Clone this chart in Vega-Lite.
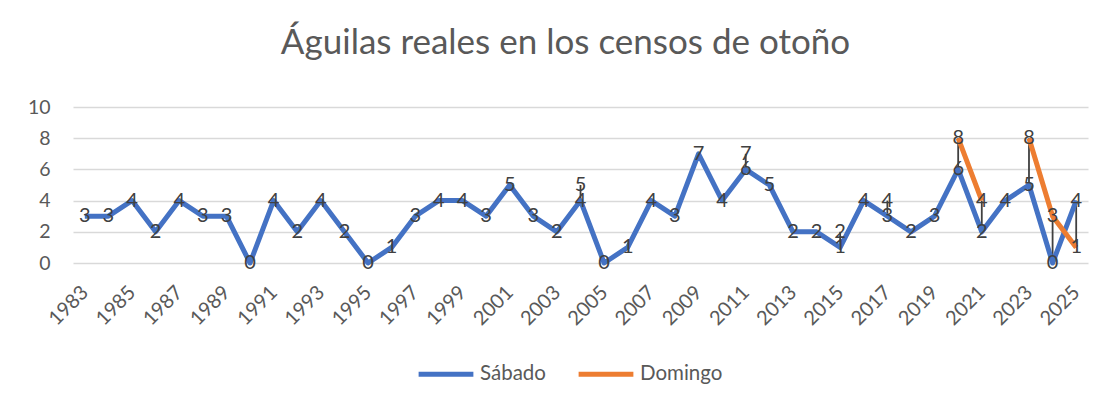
{
  "$schema": "https://vega.github.io/schema/vega-lite/v6.json",
  "width": 1015,
  "height": 156,
  "autosize": {"type": "none"},
  "padding": {"left": 73, "top": 107, "right": 27, "bottom": 144},
  "background": "white",
  "config": {
    "font": "Lato",
    "view": {"stroke": null}
  },
  "title": {
    "text": "Águilas reales en los censos de otoño",
    "fontSize": 35,
    "font": "Lato",
    "fontWeight": "normal",
    "color": "#595959",
    "anchor": "middle",
    "dx": -15,
    "offset": 36
  },
  "data": {
    "values": [
      {"year": 1983, "Sábado": 3, "Domingo": null},
      {"year": 1984, "Sábado": 3, "Domingo": null},
      {"year": 1985, "Sábado": 4, "Domingo": null},
      {"year": 1986, "Sábado": 2, "Domingo": null},
      {"year": 1987, "Sábado": 4, "Domingo": null},
      {"year": 1988, "Sábado": 3, "Domingo": null},
      {"year": 1989, "Sábado": 3, "Domingo": null},
      {"year": 1990, "Sábado": 0, "Domingo": null},
      {"year": 1991, "Sábado": 4, "Domingo": null},
      {"year": 1992, "Sábado": 2, "Domingo": null},
      {"year": 1993, "Sábado": 4, "Domingo": null},
      {"year": 1994, "Sábado": 2, "Domingo": null},
      {"year": 1995, "Sábado": 0, "Domingo": null},
      {"year": 1996, "Sábado": 1, "Domingo": null},
      {"year": 1997, "Sábado": 3, "Domingo": null},
      {"year": 1998, "Sábado": 4, "Domingo": null},
      {"year": 1999, "Sábado": 4, "Domingo": null},
      {"year": 2000, "Sábado": 3, "Domingo": null},
      {"year": 2001, "Sábado": 5, "Domingo": null},
      {"year": 2002, "Sábado": 3, "Domingo": null},
      {"year": 2003, "Sábado": 2, "Domingo": null},
      {"year": 2004, "Sábado": 4, "Domingo": 5},
      {"year": 2005, "Sábado": 0, "Domingo": null},
      {"year": 2006, "Sábado": 1, "Domingo": null},
      {"year": 2007, "Sábado": 4, "Domingo": null},
      {"year": 2008, "Sábado": 3, "Domingo": null},
      {"year": 2009, "Sábado": 7, "Domingo": null},
      {"year": 2010, "Sábado": 4, "Domingo": null},
      {"year": 2011, "Sábado": 6, "Domingo": 7},
      {"year": 2012, "Sábado": 5, "Domingo": null},
      {"year": 2013, "Sábado": 2, "Domingo": null},
      {"year": 2014, "Sábado": 2, "Domingo": null},
      {"year": 2015, "Sábado": 1, "Domingo": 2},
      {"year": 2016, "Sábado": 4, "Domingo": null},
      {"year": 2017, "Sábado": 3, "Domingo": 4},
      {"year": 2018, "Sábado": 2, "Domingo": null},
      {"year": 2019, "Sábado": 3, "Domingo": null},
      {"year": 2020, "Sábado": 6, "Domingo": 8},
      {"year": 2021, "Sábado": 2, "Domingo": 4},
      {"year": 2022, "Sábado": 4, "Domingo": null},
      {"year": 2023, "Sábado": 5, "Domingo": 8},
      {"year": 2024, "Sábado": 0, "Domingo": 3},
      {"year": 2025, "Sábado": 4, "Domingo": 1}
    ]
  },
  "layer": [
    {
      "transform": [{"filter": "datum['Domingo'] != null"}],
      "mark": {"type": "rule", "color": "#404040", "strokeWidth": 1.8},
      "encoding": {
        "x": {
          "field": "year",
          "type": "quantitative",
          "scale": {"domain": [1982.5, 2025.5], "nice": false, "zero": false},
          "axis": {
            "title": null,
            "values": [1983, 1985, 1987, 1989, 1991, 1993, 1995, 1997, 1999, 2001, 2003, 2005, 2007, 2009, 2011, 2013, 2015, 2017, 2019, 2021, 2023, 2025],
            "format": "d",
            "labelAngle": -45,
            "labelAlign": "right",
            "labelBaseline": "middle",
            "labelFontSize": 20,
            "labelColor": "#595959",
            "labelFont": "Lato",
            "labelPadding": 26,
            "labelOverlap": false,
            "labelFlush": false,
            "ticks": false,
            "domain": false,
            "grid": false
          }
        },
        "y": {
          "field": "Domingo",
          "type": "quantitative",
          "scale": {"domain": [0, 10], "nice": false},
          "axis": {
            "title": null,
            "values": [0, 2, 4, 6, 8, 10],
            "labelFontSize": 19.5,
            "labelColor": "#595959",
            "labelFont": "Lato",
            "labelPadding": 23,
            "labelOverlap": false,
            "labelFlush": false,
            "ticks": false,
            "domain": false,
            "grid": true,
            "gridColor": "#d9d9d9",
            "gridWidth": 1.5
          }
        },
        "y2": {"field": "Sábado"}
      }
    },
    {
      "transform": [{"fold": ["Sábado", "Domingo"], "as": ["serie", "value"]}],
      "mark": {"type": "line", "strokeWidth": 5, "strokeJoin": "round", "strokeCap": "butt"},
      "encoding": {
        "x": {
          "field": "year",
          "type": "quantitative",
          "scale": {"domain": [1982.5, 2025.5], "nice": false, "zero": false},
          "axis": {
            "title": null,
            "values": [1983, 1985, 1987, 1989, 1991, 1993, 1995, 1997, 1999, 2001, 2003, 2005, 2007, 2009, 2011, 2013, 2015, 2017, 2019, 2021, 2023, 2025],
            "format": "d",
            "labelAngle": -45,
            "labelAlign": "right",
            "labelBaseline": "middle",
            "labelFontSize": 20,
            "labelColor": "#595959",
            "labelFont": "Lato",
            "labelPadding": 26,
            "labelOverlap": false,
            "labelFlush": false,
            "ticks": false,
            "domain": false,
            "grid": false
          }
        },
        "y": {
          "field": "value",
          "type": "quantitative",
          "scale": {"domain": [0, 10], "nice": false},
          "axis": {
            "title": null,
            "values": [0, 2, 4, 6, 8, 10],
            "labelFontSize": 19.5,
            "labelColor": "#595959",
            "labelFont": "Lato",
            "labelPadding": 23,
            "labelOverlap": false,
            "labelFlush": false,
            "ticks": false,
            "domain": false,
            "grid": true,
            "gridColor": "#d9d9d9",
            "gridWidth": 1.5
          }
        },
        "color": {
          "field": "serie",
          "type": "nominal",
          "scale": {"domain": ["Sábado", "Domingo"], "range": ["#4472C4", "#ED7D31"]},
          "legend": {
            "title": null,
            "orient": "none",
            "direction": "horizontal",
            "legendX": 343,
            "legendY": 237,
            "symbolType": "stroke",
            "symbolStrokeWidth": 5,
            "symbolSize": 3000,
            "labelFontSize": 20.5,
            "labelColor": "#595959",
            "labelFont": "Lato",
            "columnPadding": 22,
            "labelOffset": 4
          }
        },
        "detail": {"field": "serie"}
      }
    },
    {
      "transform": [
        {"fold": ["Sábado", "Domingo"], "as": ["serie", "value"]},
        {"filter": "datum.value != null"}
      ],
      "mark": {"type": "text", "fontSize": 20, "color": "#404040", "font": "Lato", "baseline": "middle", "align": "center"},
      "encoding": {
        "x": {
          "field": "year",
          "type": "quantitative",
          "scale": {"domain": [1982.5, 2025.5], "nice": false, "zero": false},
          "axis": {
            "title": null,
            "values": [1983, 1985, 1987, 1989, 1991, 1993, 1995, 1997, 1999, 2001, 2003, 2005, 2007, 2009, 2011, 2013, 2015, 2017, 2019, 2021, 2023, 2025],
            "format": "d",
            "labelAngle": -45,
            "labelAlign": "right",
            "labelBaseline": "middle",
            "labelFontSize": 20,
            "labelColor": "#595959",
            "labelFont": "Lato",
            "labelPadding": 26,
            "labelOverlap": false,
            "labelFlush": false,
            "ticks": false,
            "domain": false,
            "grid": false
          }
        },
        "y": {
          "field": "value",
          "type": "quantitative",
          "scale": {"domain": [0, 10], "nice": false},
          "axis": {
            "title": null,
            "values": [0, 2, 4, 6, 8, 10],
            "labelFontSize": 19.5,
            "labelColor": "#595959",
            "labelFont": "Lato",
            "labelPadding": 23,
            "labelOverlap": false,
            "labelFlush": false,
            "ticks": false,
            "domain": false,
            "grid": true,
            "gridColor": "#d9d9d9",
            "gridWidth": 1.5
          }
        },
        "text": {"field": "value", "type": "quantitative"}
      }
    }
  ]
}
